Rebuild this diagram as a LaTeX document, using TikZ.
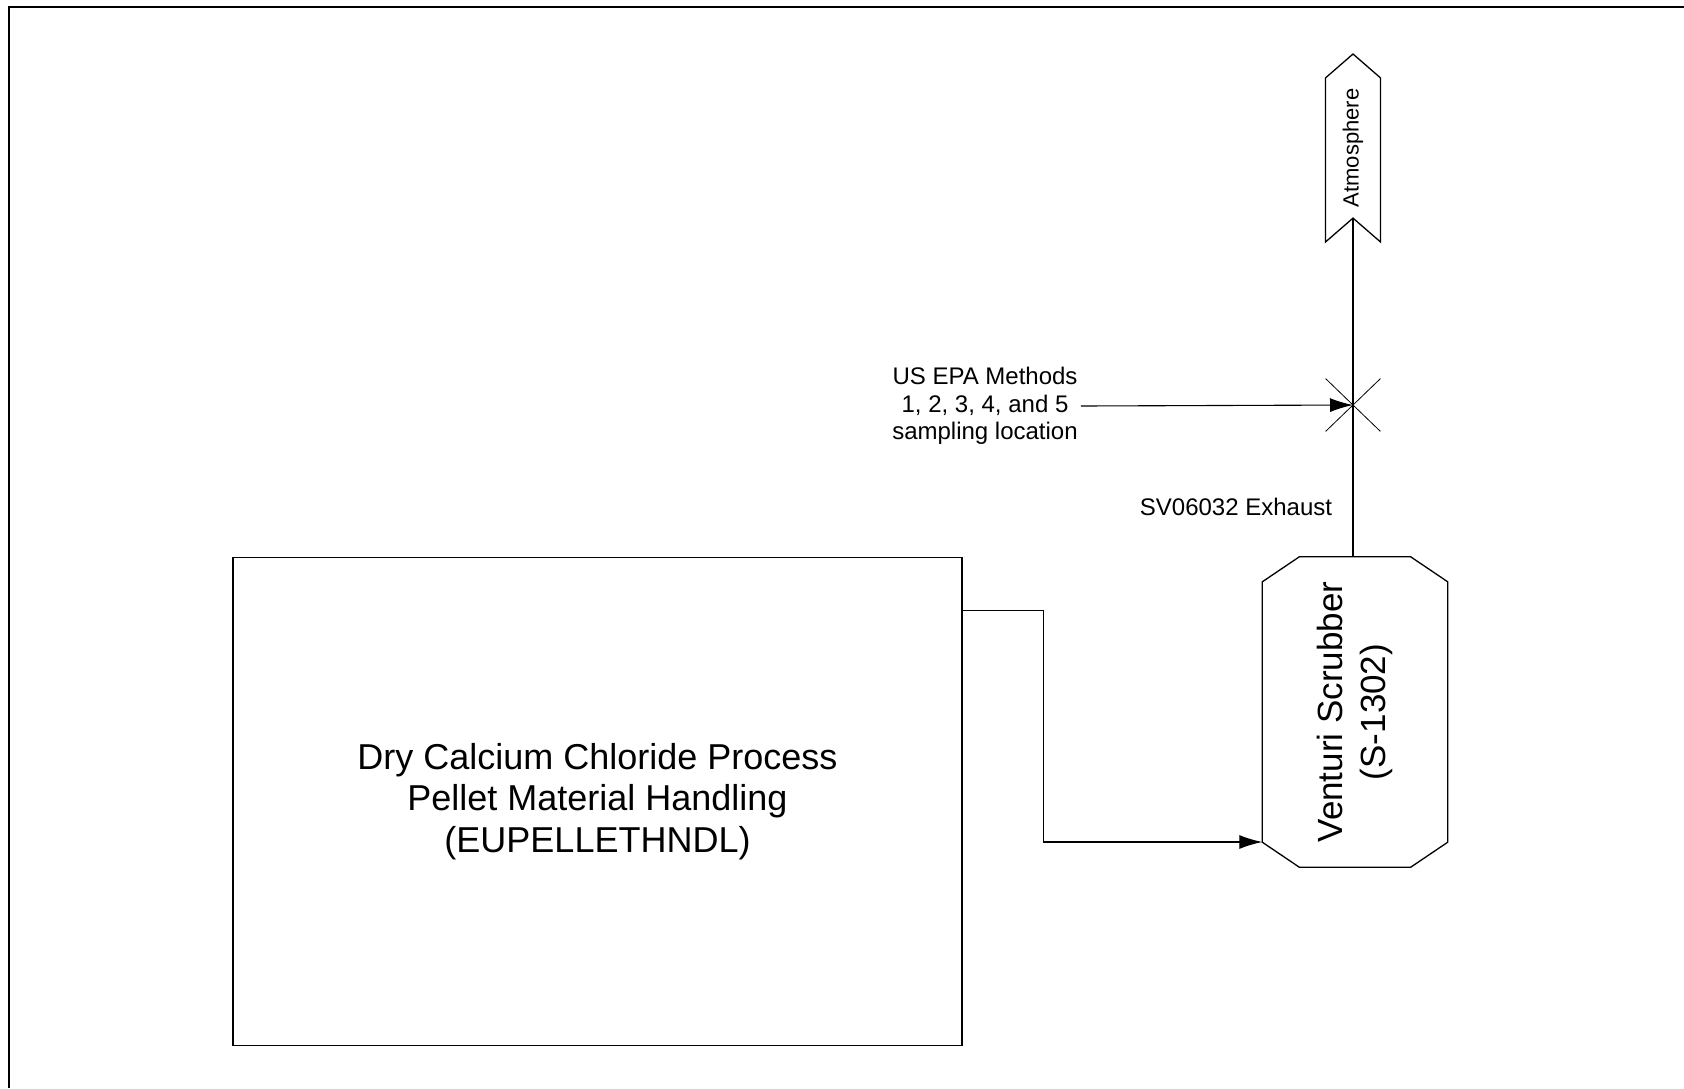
\documentclass[tikz,border=0pt]{standalone}
\usepackage{fontspec}
\setmainfont{Liberation Sans}
\usetikzlibrary{arrows.meta, positioning, shapes.misc, shapes.symbols}

\begin{document}
\begin{tikzpicture}[
    x=1pt, y=-1pt,
    every node/.style={inner sep=3pt},
    unit/.style={draw,line width=1.3pt,minimum width=729pt,
                 minimum height=488pt,align=center,
                 font=\fontsize{36}{41.5}\selectfont},
    scrub/.style={minimum width=185pt,minimum height=310pt,
                  font=\fontsize{35}{43}\selectfont},
    vent/.style={draw,line width=1.3pt,signal,rotate=90,
                 signal to=east,signal from=west,signal pointer angle=98,
                 minimum width=188pt,minimum height=55pt,
                 font=\fontsize{22}{26}\selectfont},
    port/.style={draw,line width=0.8pt,cross out,
                 minimum width=54pt,minimum height=52pt},
    lbl/.style={align=center,font=\fontsize{24}{27.5}\selectfont},
    arr/.style={-{Latex[length=23pt,width=14pt]},line width=1.1pt},
    pipe/.style={line width=1.1pt}
]
\useasboundingbox (0,0) rectangle (1684,1088);
\draw[line width=2.5pt] (9,1088) -- (9,7) -- (1684,7);

\node[unit]  (handl) at (597.5,801.5) {Dry Calcium Chloride Process\\Pellet Material Handling\\(EUPELLETHNDL)};
\node[scrub] (s1302) at (1355,712) {\rotatebox{90}{\begin{tabular}{@{}c@{}}Venturi Scrubber\\(S-1302)\end{tabular}}};
\draw[line width=1.3pt] ([xshift=37pt]s1302.north west) -- ([xshift=-37pt]s1302.north east)
    -- ([yshift=-25pt]s1302.north east) -- ([yshift=25pt]s1302.south east)
    -- ([xshift=-37pt]s1302.south east) -- ([xshift=37pt]s1302.south west)
    -- ([yshift=25pt]s1302.south west) -- ([yshift=-25pt]s1302.north west) -- cycle;
\node[vent]  (atm)   at (1353,148) {Atmosphere};
\node[port]  (samp)  at (1353,405) {};
\node[lbl]   (epa)   at (985,406) {US EPA Methods\\1, 2, 3, 4, and 5\\sampling location};
\node[lbl]   (exh)   at (1236,507) {SV06032 Exhaust};

\draw[arr] ([yshift=-54pt]handl.north east) -- ++(81,0) |- ([yshift=-130pt]s1302.west);
\draw[pipe] (s1302.north -| samp.center) -- (samp.center) -- (atm.west);
\draw[arr] (epa.east) -- (samp.center);
\end{tikzpicture}
\end{document}
